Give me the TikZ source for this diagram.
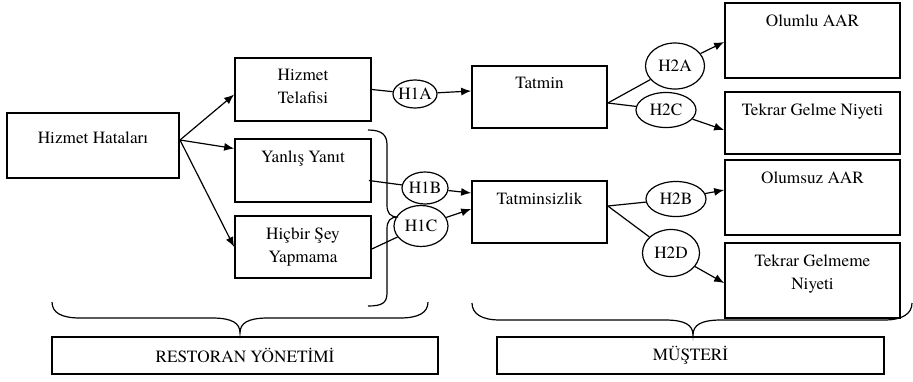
\documentclass[tikz,border=0pt]{standalone}
\usepackage{fontspec}
\setmainfont{texgyretermes}[Extension=.otf, UprightFont=*-regular, BoldFont=*-bold]
\usetikzlibrary{shapes.geometric,arrows.meta}

\begin{document}
\begin{tikzpicture}[x=1pt,y=-1pt,font=\fontsize{17.2}{23}\selectfont]
\tikzstyle{mybox} = [draw, rectangle, line width=1.7pt, inner sep=0pt]
\tikzstyle{myoval} = [draw, ellipse, line width=1.2pt, inner sep=0pt]
\tikzstyle{toptext} = [anchor=north, inner sep=0pt, align=center, yshift=-12pt]
\tikzstyle{myline} = [line width=1.2pt]
\tikzstyle{myarrow} = [line width=1.2pt, -{Latex[length=10pt,width=8pt]}]
\useasboundingbox (0,0) rectangle (913,381);
% restoran side
\node[mybox, minimum width=172pt, minimum height=65pt,
  label={[toptext,yshift=-7pt]north:{Hizmet Hataları}}] (hata) at (93,145.5) {};
\node[mybox, minimum width=136pt, minimum height=63pt,
  label={[toptext]north:{Hizmet\\Telafisi}}] (telafi) at (303,89.5) {};
\node[mybox, minimum width=136pt, minimum height=63pt,
  label={[toptext]north:{Yanlış Yanıt}}] (yanlis) at (303,170.5) {};
\node[mybox, minimum width=136pt, minimum height=62pt,
  label={[toptext]north:{Hiçbir Şey\\Yapmama}}] (hicbir) at (303,247) {};
\node[myoval, minimum width=44pt, minimum height=28pt] (h1a) at (415,94) {\makebox[0pt]{H1A}};
\node[myoval, minimum width=46pt, minimum height=32pt] (h1b) at (425,188) {\makebox[0pt]{H1B}};
\node[myoval, minimum width=54pt, minimum height=41pt] (h1c) at (421,226) {\makebox[0pt]{H1C}};
% musteri side
\node[mybox, minimum width=135pt, minimum height=62pt,
  label={[toptext]north:Tatmin}] (tatmin) at (539.5,97) {};
\node[mybox, minimum width=135pt, minimum height=62pt,
  label={[toptext]north:Tatminsizlik}] (tatminsiz) at (539.5,212) {};
\node[myoval, minimum width=59pt, minimum height=46pt] (h2a) at (675,66) {\makebox[0pt]{H2A}};
\node[myoval, minimum width=60pt, minimum height=35pt] (h2c) at (666,110) {\makebox[0pt]{H2C}};
\node[myoval, minimum width=60pt, minimum height=35pt] (h2b) at (676,199) {\makebox[0pt]{H2B}};
\node[myoval, minimum width=57pt, minimum height=47pt] (h2d) at (671,253) {\makebox[0pt]{H2D}};
\node[mybox, minimum width=175pt, minimum height=75pt,
  label={[toptext]north:{Olumlu AAR}}] (olumlu) at (812.5,40.5) {};
\node[mybox, minimum width=175pt, minimum height=62pt,
  label={[toptext]north:{Tekrar Gelme Niyeti}}] (tekrar) at (812.5,123) {};
\node[mybox, minimum width=175pt, minimum height=75pt,
  label={[toptext]north:{Olumsuz AAR}}] (olumsuz) at (812.5,197.5) {};
\node[mybox, minimum width=175pt, minimum height=75pt,
  label={[toptext]north:{Tekrar Gelmeme\\Niyeti}}] (gelmeme) at (812.5,280.5) {};
% bottom
\node[mybox, minimum width=386pt, minimum height=37pt] (yonetim) at (245,355.5) {RESTORAN YÖNETİMİ};
\node[mybox, minimum width=387pt, minimum height=37pt] (musteri) at (690.5,355.5) {MÜŞTERİ};

\coordinate (hout) at (180,140);
\draw[myarrow] (hout) -- ([yshift=-5pt]telafi.west);
\draw[myarrow] (hout) -- ([yshift=22pt]yanlis.west);
\draw[myarrow] (hout) -- (hicbir.west);
\draw[myline] (telafi.east) -- (h1a);
\draw[myarrow] (h1a) -- ([yshift=6pt]tatmin.west);
\draw[myline] ([xshift=-3pt,yshift=-10pt]yanlis.east) -- (h1b);
\draw[myarrow] (h1b) -- ([yshift=19pt]tatminsiz.west);
\draw[myline] ([yshift=-2pt]hicbir.east) -- (h1c);
\draw[myarrow] (h1c) -- ([yshift=3pt]tatminsiz.west);
\draw[myline] ([yshift=-6pt]tatmin.east) -- (h2a);
\draw[myline] ([yshift=-6pt]tatmin.east) -- (h2c);
\draw[myarrow] (h2a) -- ([yshift=-1.5pt]olumlu.west);
\draw[myarrow] (h2c) -- ([yshift=-7pt]tekrar.west);
\draw[myline] ([yshift=6pt]tatminsiz.east) -- (h2b);
\draw[myline] ([yshift=6pt]tatminsiz.east) -- (h2d);
\draw[myarrow] (h2b) -- ([yshift=7.5pt]olumsuz.west);
\draw[myarrow] (h2d) -- ([yshift=-2.5pt]gelmeme.west);

% braces
\draw[myline] (368,130) .. controls (382,130) and (387,135) .. (387,145) -- (387,205)
  .. controls (387,213) and (390,217) .. (398,217) .. controls (390,217) and (387,221) .. (387,229)
  -- (387,293) .. controls (387,303) and (382,306) .. (368,306);
\draw[myline] (52,302) .. controls (52,313) and (62,318) .. (80,318) -- (212,318)
  .. controls (232,318) and (240,323) .. (240,333) .. controls (240,323) and (248,318) .. (268,318)
  -- (400,318) .. controls (418,318) and (428,313) .. (428,302);
\draw[myline] (472,303) .. controls (472,314) and (482,320) .. (500,320) -- (665,320)
  .. controls (685,320) and (693,325) .. (693,335) .. controls (693,325) and (701,320) .. (721,320)
  -- (884,320) .. controls (902,320) and (912,314) .. (912,303);
\end{tikzpicture}
\end{document}
